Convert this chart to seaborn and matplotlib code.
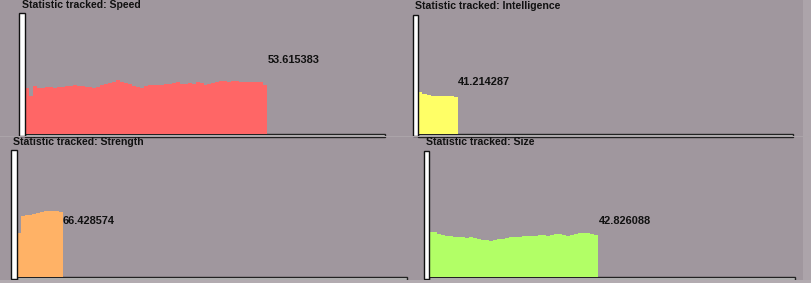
import matplotlib
matplotlib.use("Agg")
import matplotlib.pyplot as plt
import seaborn as sns
import numpy as np
from matplotlib.patches import Rectangle

sns.set_theme(style="white")
plt.rcParams['font.family'] = ['Liberation Sans', 'DejaVu Sans']

# ---------------- data ----------------
stat_names = ["Speed", "Intelligence", "Strength", "Size"]
stat_labels = ["53.615383", "41.214287", "66.428574", "42.826088"]

speed_vals = [46, 38, 48.5, 46, 46, 47, 47, 46.5, 46.7, 47, 48, 48.5, 48.7, 48.5,
              48, 47.5, 47, 46.5, 47.5, 49, 50.5, 51.5, 52.5, 54, 52, 51, 50, 48.5,
              47, 46.5, 48, 49, 49.5, 49, 49.5, 50, 50.5, 51, 52, 50.5, 50.5, 51,
              50.5, 52, 51, 49.5, 50, 51, 52, 53, 53.5, 52.5, 53, 53.5, 52.5, 52,
              52.5, 52, 52.5, 52, 49]
intelligence_vals = [41.7, 40.5, 39.3, 38.3, 37.7, 37.7, 38.0, 37.7, 37.5]
strength_vals = [44, 60.5, 61.5, 62, 63, 63.5, 64.5, 66, 65.5, 66.3, 66, 64.5]
size_vals = [45, 44.5, 43, 41.5, 41, 40.7, 40.3, 40, 39.5, 39, 40, 38.5, 38, 37.3,
             36.5, 36.3, 37.3, 38, 38.3, 39, 39.5, 40, 40.3, 41, 41.3, 41, 40.7,
             41.5, 42, 41.3, 42, 43, 42.5, 42, 41.3, 42, 43, 44, 44.3, 43.5, 43.3,
             41.7]
series = [speed_vals, intelligence_vals, strength_vals, size_vals]
colors = ["#FF6666", "#FFFF66", "#FFB266", "#B2FF66"]

# ---------------- layout (pixels) ----------------
W, H = 811, 283
BG = "#A0979E"
layouts = [
    dict(bar=19, left=25, right=385, top=13, base=134, fill_right=267, lx=268, ly=60, tx=22, ty=5),
    dict(bar=413, left=418, right=793, top=15, base=134, fill_right=458, lx=458, ly=82, tx=415, ty=6),
    dict(bar=11, left=17, right=407, top=150, base=277, fill_right=63, lx=63, ly=221, tx=13, ty=142),
    dict(bar=424, left=429, right=795, top=151, base=277, fill_right=598, lx=599, ly=221, tx=426, ty=142),
]

fig = plt.figure(figsize=(W / 100, H / 100), dpi=100)
fig.patch.set_facecolor(BG)

# subtle frame strips
fig.patches.append(Rectangle((803 / W, 0), 8 / W, 1, transform=fig.transFigure,
                             fc="#ACA4AA", ec="none", zorder=0))
fig.patches.append(Rectangle((0, 1 - 137 / H), 1, 1.2 / H, transform=fig.transFigure,
                             fc="#ABA4A9", ec="none", zorder=0))
fig.patches.append(Rectangle((0, 0), 1, 3 / H, transform=fig.transFigure,
                             fc="#B2ABB0", ec="none", zorder=0))

for name, lab, vals, col, L in zip(stat_names, stat_labels, series, colors, layouts):
    aw = L["right"] - L["left"]
    ah = L["base"] - L["top"]
    ax = fig.add_axes([L["left"] / W, 1 - L["base"] / H, aw / W, ah / H])
    n = len(vals)
    sns.histplot(x=np.arange(n), weights=vals, discrete=True, element="step",
                 fill=True, color=col, alpha=1, linewidth=0, ax=ax, zorder=3)
    step_px = (L["fill_right"] - L["left"]) / n
    ax.set_xlim(-0.5, -0.5 + aw / step_px)
    ax.set_ylim(0, ah)
    ax.set_axis_off()

    # white vertical bar (y axis)
    bw = (L["left"] - L["bar"]) / aw
    ax.add_patch(Rectangle((-bw, -1.5 / ah), bw, 1 + 1.5 / ah, transform=ax.transAxes,
                           clip_on=False, fc="white", ec="#111111", lw=1.0, zorder=4))
    # horizontal baseline bar
    ax.add_patch(Rectangle((0, -2.5 / ah), 1, 3.0 / ah, transform=ax.transAxes,
                           clip_on=False, fc="#D0D0D0", ec="#222222", lw=1.0, zorder=1))

    fig.text(L["tx"] / W, 1 - L["ty"] / H, f"Statistic tracked: {name}",
             ha="left", va="center", fontsize=7.6, weight="bold", color="#111111")
    fig.text(L["lx"] / W, 1 - L["ly"] / H, lab, ha="left", va="center",
             fontsize=7.9, weight="bold", color="#111111")

fig.savefig("out.png", dpi=100, facecolor=BG)
